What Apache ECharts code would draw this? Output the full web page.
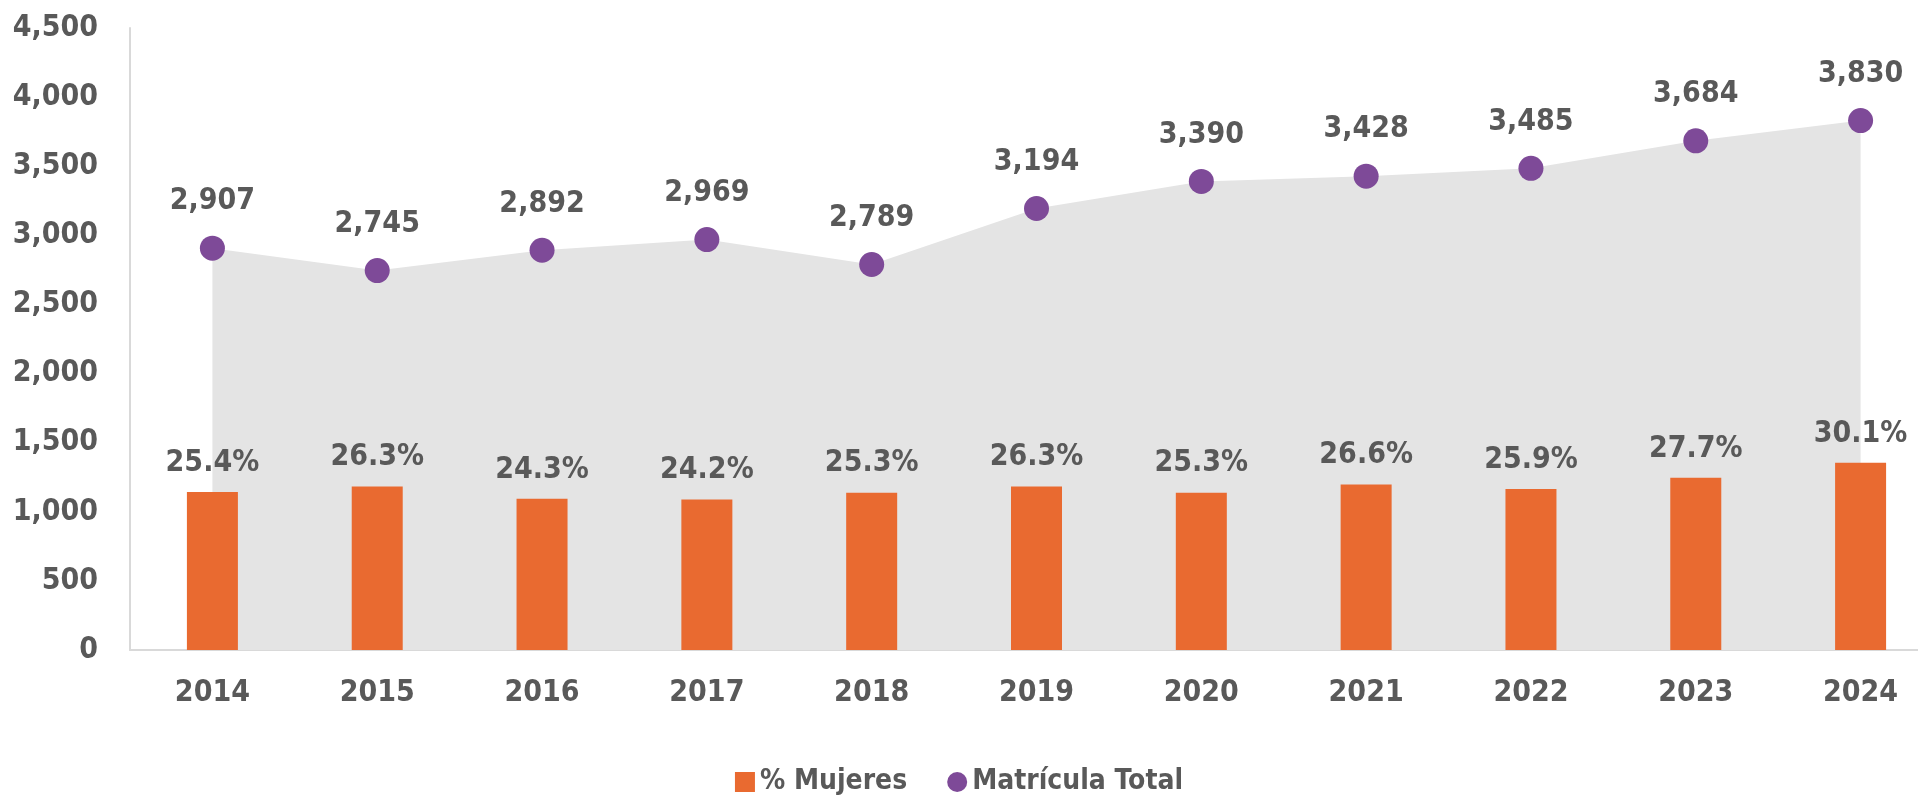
<!DOCTYPE html>
<html>
<head>
<meta charset="utf-8">
<script src="https://cdn.jsdelivr.net/npm/echarts@6/dist/echarts.min.js"></script>
<style>
  html,body{margin:0;padding:0;background:#fff;}
  #chart{width:1918px;height:801px;}
</style>
</head>
<body>
<div id="chart"></div>
<script>
  var years = ['2014','2015','2016','2017','2018','2019','2020','2021','2022','2023','2024'];
  // porcentaje de mujeres (%)
  var pctMujeres = [25.4, 26.3, 24.3, 24.2, 25.3, 26.3, 25.3, 26.6, 25.9, 27.7, 30.1];
  var matriculaTotal = [2907, 2745, 2892, 2969, 2789, 3194, 3390, 3428, 3485, 3684, 3830];

  var font = '"Liberation Sans Narrow", "DejaVu Sans Condensed", "Roboto", sans-serif';
  var txt = '#595959';

  var chart = echarts.init(document.getElementById('chart'));
  var option = {
    backgroundColor: '#ffffff',
    textStyle: { fontFamily: font },
    grid: { left: 130, right: -25, top: 28, bottom: 151, outerBoundsMode: 'none', containLabel: false },
    legend: {
      bottom: 0,
      left: 'center',
      itemGap: 40,
      itemWidth: 20,
      itemHeight: 20,
      textStyle: { color: txt, fontSize: 28, fontWeight: 'bold', fontFamily: font },
      data: [
        { name: '% Mujeres', icon: 'rect', itemStyle: { color: '#E96A30' } },
        { name: 'Matrícula Total', icon: 'circle', itemStyle: { color: '#7E4A98' } }
      ]
    },
    xAxis: {
      type: 'category',
      data: years,
      axisLine: { lineStyle: { color: '#D9D9D9', width: 2 } },
      axisTick: { show: false },
      axisLabel: { color: txt, fontSize: 30, fontWeight: 'bold', margin: 28, fontFamily: font }
    },
    yAxis: [{
      type: 'value',
      min: 0, max: 4500, interval: 500,
      axisLine: { show: true, lineStyle: { color: '#D9D9D9', width: 2 } },
      axisTick: { show: false },
      splitLine: { show: false },
      axisLabel: {
        color: txt, fontSize: 30, fontWeight: 'bold', margin: 32, fontFamily: font,
        formatter: function (v) { return v.toLocaleString('en-US'); }
      }
    }, {
      type: 'value',
      min: 0, max: 100,
      show: false
    }],
    series: [{
      name: 'Matrícula Total',
      type: 'line',
      data: matriculaTotal,
      yAxisIndex: 0,
      z: 1,
      symbol: 'circle',
      symbolSize: 25,
      itemStyle: { color: '#7E4A98' },
      lineStyle: { width: 0, color: '#E4E4E4' },
      areaStyle: { color: '#E4E4E4', opacity: 1 },
      label: {
        show: true, position: 'top', distance: 19,
        color: txt, fontSize: 30, fontWeight: 'bold', fontFamily: font,
        formatter: function (p) { return p.value.toLocaleString('en-US'); }
      }
    }, {
      name: '% Mujeres',
      type: 'bar',
      data: pctMujeres,
      yAxisIndex: 1,
      z: 2,
      barWidth: 51,
      itemStyle: { color: '#E96A30' },
      label: {
        show: true, position: 'top', distance: 14,
        color: txt, fontSize: 30, fontWeight: 'bold', fontFamily: font,
        formatter: function (p) { return p.value.toFixed(1) + '%'; }
      }
    }]
  };
  chart.setOption(option);
</script>
</body>
</html>
